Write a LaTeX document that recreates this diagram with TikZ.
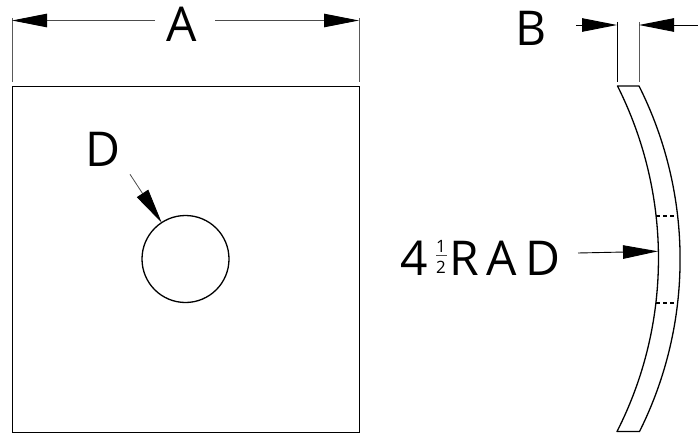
\documentclass[tikz,border=0pt]{standalone}
\usepackage{fontspec}
\setmainfont{Open Sans}
\usetikzlibrary{arrows.meta}
\newfontfamily\spaced[LetterSpace=17]{Open Sans}
\tikzset{
  part/.style={draw=black,line width=1.3pt},
  ext/.style={draw=black!65,line width=1pt},
  dim/.style={draw=black!70,line width=0.9pt,-{Triangle[length=35pt,width=13.5pt,fill=black,color=black]}},
  big/.style={inner sep=0pt,anchor=base,font=\fontsize{48}{48}\selectfont},
  small/.style={inner sep=0pt,anchor=south,align=center,font=\fontsize{17}{21.3}\selectfont},
  hidden/.style={draw=black,line width=1.2pt,dash pattern=on 4pt off 3pt}
}
\begin{document}
\begin{tikzpicture}[x=1pt,y=-1pt]
\useasboundingbox (0,0) rectangle (698,433);
% front view
\node[part,minimum width=347pt,minimum height=345.5pt,inner sep=0pt,anchor=north west] (plate) at (12,86) {};
\node[part,circle,minimum size=87pt,inner sep=0pt] (hole) at (185.5,259) {};
% dimension A
\coordinate (aL) at (12,20.5);
\coordinate (aR) at (359,20.5);
\coordinate (aLs) at (155,20.5);
\coordinate (aRs) at (215,20.5);
\node[big] (A) at (181.5,42) {A};
\draw[ext] (12,18) -- (12,82.5);
\draw[ext] (359,18) -- (359,82.5);
\draw[dim] (aLs) -- (aL);
\draw[dim] (aRs) -- (aR);
% label D
\node[big] (D) at (102.5,166) {D};
\coordinate (dS) at (130,174.3);
\coordinate (dE) at (161.7,222.7);
\draw[dim,line width=.8pt] (dS) -- (dE);
% side view
\coordinate (tl) at (617.5,86);
\coordinate (tr) at (639,86);
\coordinate (bl) at (617,431.5);
\coordinate (br) at (639.5,431.5);
\draw[part,line join=round] (tl) -- (tr)
  .. controls (693.7,194.9) and (693.7,323.1) .. (br)
  -- (bl)
  .. controls (672.2,323.1) and (672.2,194.9) .. (tl) -- cycle;
\coordinate (h1l) at (656,216);
\coordinate (h1r) at (677,216);
\coordinate (h2l) at (656,303);
\coordinate (h2r) at (677,303);
\draw[hidden] (h1l) -- (h1r);
\draw[hidden] (h2l) -- (h2r);
% dimension B
\node[big] (B) at (531.5,45.6) {B};
\draw[ext,draw=black] (617.5,22) -- (617.5,82.5);
\draw[ext] (639,22) -- (639,82.5);
\coordinate (bLs) at (576,25);
\coordinate (bLe) at (617,25);
\coordinate (bRs) at (698,25);
\coordinate (bRe) at (639,25);
\draw[dim,draw=black] (bLs) -- (bLe);
\draw[dim,draw=black] (bRs) -- (bRe);
% radius
\node[big] (four) at (414.5,275.7) {4};
\node[small] (half) at (441,274) {1\\2};
\coordinate (barL) at (436,255);
\coordinate (barR) at (446.5,255);
\draw[draw=black!70,line width=.8pt] (barL) -- (barR);
\node[big,anchor=base west] (rad) at (449,275.7) {\spaced RAD};
\coordinate (rS) at (578,253);
\coordinate (rE) at (658,251.3);
\draw[dim,draw=black] (rS) -- (rE);
\end{tikzpicture}
\end{document}
